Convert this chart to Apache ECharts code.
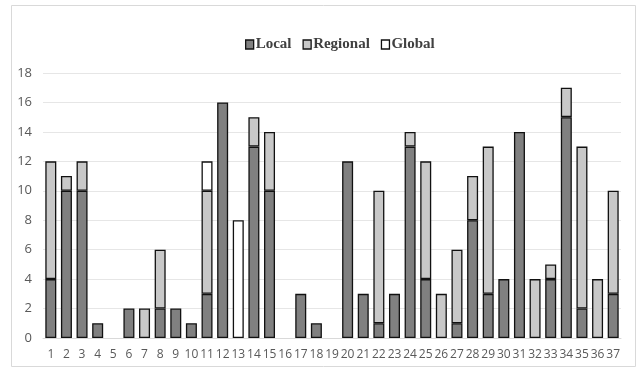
<!DOCTYPE html>
<html><head><meta charset="utf-8">
<script src="https://cdn.jsdelivr.net/npm/echarts@6/dist/echarts.min.js"></script>
<style>html,body{margin:0;padding:0;background:#fff}#c{width:639px;height:367px}</style>
</head><body><div id="c"></div>
<script>
const categories = ['1','2','3','4','5','6','7','8','9','10','11','12','13','14','15','16','17','18','19','20','21','22','23','24','25','26','27','28','29','30','31','32','33','34','35','36','37'];
const local    = [4,10,10,1,0,2,0,2,2,1,3,16,0,13,10,0,3,1,0,12,3,1,3,13,4,0,1,8,3,4,14,0,4,15,2,0,3];
const regional = [8,1,2,0,0,0,2,4,0,0,7,0,0,2,4,0,0,0,0,0,0,9,0,1,8,3,5,3,10,0,0,4,1,2,11,4,7];
const global   = [0,0,0,0,0,0,0,0,0,0,2,0,8,0,0,0,0,0,0,0,0,0,0,0,0,0,0,0,0,0,0,0,0,0,0,0,0];
const yTicks = [0,2,4,6,8,10,12,14,16,18];

const chart = echarts.init(document.getElementById('c'), null, {renderer:'canvas'});
const nz = a => a.map(v => v === 0 ? null : v);
const mk = (name, data, color) => ({
  name, type:'bar', stack:'s', data: nz(data), barWidth: 11,
  itemStyle:{color, borderColor:'#111', borderWidth:1.3}
});
chart.setOption({
  animation:false,
  graphic:[{type:'rect', shape:{x:11.5,y:5.5,width:624,height:361}, style:{fill:'none', stroke:'#d9d9d9', lineWidth:1}}],
  legend:{
    top:32, left:240, icon:'rect', itemWidth:8, itemHeight:9, itemGap:11,
    textStyle:{fontFamily:'Liberation Serif', fontWeight:'bold', fontSize:15, color:'#404040', padding:[0,0,0,-3]},
    data: [
      {name:'Local', itemStyle:{color:'#808080', borderColor:'#111', borderWidth:1.3}},
      {name:'Regional', itemStyle:{color:'#c8c8c8', borderColor:'#111', borderWidth:1.3}},
      {name:'Global', itemStyle:{color:'#ffffff', borderColor:'#111', borderWidth:1.3}}
    ]
  },
  grid:{left:43, right:18, top:73, bottom:29, containLabel:false},
  xAxis:{
    type:'category', data:categories,
    axisLine:{lineStyle:{color:'#d9d9d9', width:1}},
    axisTick:{show:false},
    axisLabel:{color:'#595959', fontSize:12, fontFamily:'Open Sans', margin:11, interval:0}
  },
  yAxis:{
    type:'value', min:0, max:18, interval:2,
    axisLine:{show:false}, axisTick:{show:false},
    splitLine:{lineStyle:{color:'#e6e6e6', width:1}},
    axisLabel:{color:'#595959', fontSize:13, fontFamily:'Open Sans', margin:11,
      formatter: v => yTicks.includes(v) ? String(v) : ''}
  },
  series:[
    mk('Local', local, '#808080'),
    mk('Regional', regional, '#c8c8c8'),
    mk('Global', global, '#ffffff')
  ]
});
</script></body></html>
